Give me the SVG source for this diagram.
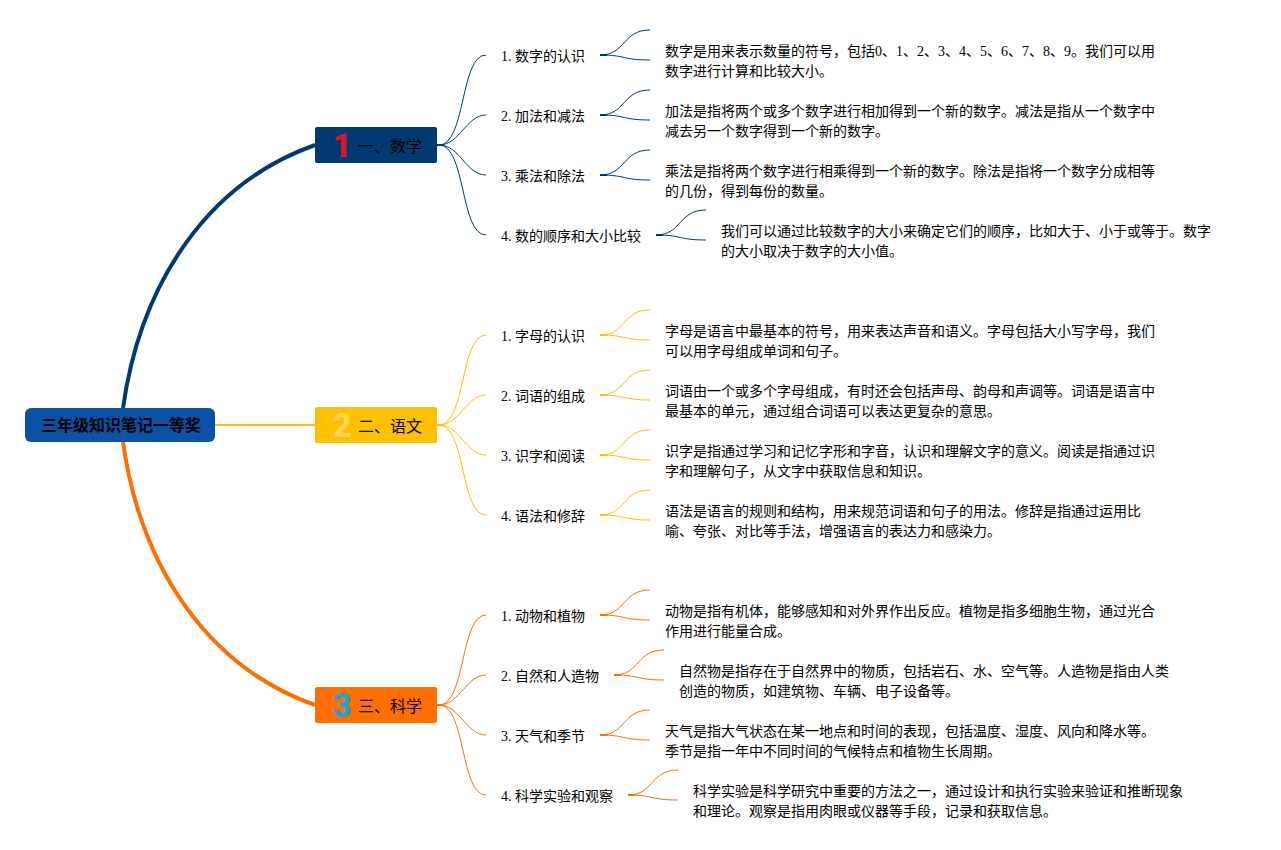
<svg xmlns="http://www.w3.org/2000/svg" width="1281" height="850" viewBox="0 0 1281 850">
<style>
text{font-family:"Liberation Serif","Noto Sans CJK SC",serif;fill:#000}
.s{font-size:14px}
.t{font-size:14px}
.b{font-size:16px}
.r{font-size:16px;font-weight:700;font-family:"Noto Sans CJK SC","Liberation Sans",sans-serif}
.n{font-size:33px;font-weight:900;font-family:Roboto,"Liberation Sans",sans-serif;text-anchor:middle}
.c{fill:none}
.blue{stroke:#003a70}.yel{stroke:#ffc000}.ora{stroke:#ff6f00}
.main{stroke-width:4}
.sub{stroke-width:1}
</style>
<rect width="1281" height="850" fill="#fff"/>
<g id="connectors" class="c">
<path class="c blue main" d="M123,408 C141,280 210,182 315,145"/>
<path class="c ora main" d="M123,442 C141,570 210,668 315,705"/>
<path class="c yel" stroke-width="2" d="M215,425H315"/>
<g class="blue sub">
<path class="c" stroke-width="2" d="M437,145h4M600,55h7M600,115h7M600,175h7M656,235h7"/>
<path class="c" d="M439,145C466,145 460,55 486,55"/>
<path class="c" d="M439,145C460,145 466,115 486,115"/>
<path class="c" d="M439,145C460,145 466,175 486,175"/>
<path class="c" d="M439,145C466,145 460,235 486,235"/>
<path class="c" d="M600,55C626,55 622,30 650,30"/><path class="c" d="M600,55C626,55 622,60 650,60"/>
<path class="c" d="M600,115C626,115 622,90 650,90"/><path class="c" d="M600,115C626,115 622,120 650,120"/>
<path class="c" d="M600,175C626,175 622,150 650,150"/><path class="c" d="M600,175C626,175 622,180 650,180"/>
<path class="c" d="M656,235C682,235 678,210 706,210"/><path class="c" d="M656,235C682,235 678,240 706,240"/>
</g>
<g class="yel sub">
<path class="c" stroke-width="2" d="M437,425h4M600,335h7M600,395h7M600,455h7M600,515h7"/>
<path class="c" d="M439,425C466,425 460,335 486,335"/>
<path class="c" d="M439,425C460,425 466,395 486,395"/>
<path class="c" d="M439,425C460,425 466,455 486,455"/>
<path class="c" d="M439,425C466,425 460,515 486,515"/>
<path class="c" d="M600,335C626,335 622,310 650,310"/><path class="c" d="M600,335C626,335 622,340 650,340"/>
<path class="c" d="M600,395C626,395 622,370 650,370"/><path class="c" d="M600,395C626,395 622,400 650,400"/>
<path class="c" d="M600,455C626,455 622,430 650,430"/><path class="c" d="M600,455C626,455 622,460 650,460"/>
<path class="c" d="M600,515C626,515 622,490 650,490"/><path class="c" d="M600,515C626,515 622,520 650,520"/>
</g>
<g class="ora sub">
<path class="c" stroke-width="2" d="M437,705h4M600,615h7M614,675h7M600,735h7M628,795h7"/>
<path class="c" d="M439,705C466,705 460,615 486,615"/>
<path class="c" d="M439,705C460,705 466,675 486,675"/>
<path class="c" d="M439,705C460,705 466,735 486,735"/>
<path class="c" d="M439,705C466,705 460,795 486,795"/>
<path class="c" d="M600,615C626,615 622,590 650,590"/><path class="c" d="M600,615C626,615 622,620 650,620"/>
<path class="c" d="M614,675C640,675 636,650 664,650"/><path class="c" d="M614,675C640,675 636,680 664,680"/>
<path class="c" d="M600,735C626,735 622,710 650,710"/><path class="c" d="M600,735C626,735 622,740 650,740"/>
<path class="c" d="M628,795C654,795 650,770 678,770"/><path class="c" d="M628,795C654,795 650,800 678,800"/>
</g>
</g>
<g id="root"><rect x="25" y="408" width="190" height="34" rx="6" fill="#0a52a5"/><text class="r" x="41" y="431">三年级知识笔记一等奖</text></g>
<g id="b1"><rect x="315" y="127" width="122" height="36" rx="2" fill="#003a70"/><text class="n" x="342" y="157" style="fill:#d9142b">1</text><text class="b" x="358" y="152">一、数学</text></g>
<g id="b2"><rect x="315" y="407" width="122" height="36" rx="2" fill="#ffc000"/><text class="n" x="342" y="437" style="fill:#ffd84d">2</text><text class="b" x="358" y="432">二、语文</text></g>
<g id="b3"><rect x="315" y="687" width="122" height="36" rx="2" fill="#ff6f00"/><text class="n" x="342" y="717" style="fill:#2a9fd0">3</text><text class="b" x="358" y="712">三、科学</text></g>
<g id="m1"><text class="s" x="501" y="61">1. 数字的认识</text><text class="t" x="665" y="56">数字是用来表示数量的符号，包括0、1、2、3、4、5、6、7、8、9。我们可以用</text><text class="t" x="665" y="76">数字进行计算和比较大小。</text></g>
<g id="m2"><text class="s" x="501" y="121">2. 加法和减法</text><text class="t" x="665" y="116">加法是指将两个或多个数字进行相加得到一个新的数字。减法是指从一个数字中</text><text class="t" x="665" y="136">减去另一个数字得到一个新的数字。</text></g>
<g id="m3"><text class="s" x="501" y="181">3. 乘法和除法</text><text class="t" x="665" y="176">乘法是指将两个数字进行相乘得到一个新的数字。除法是指将一个数字分成相等</text><text class="t" x="665" y="196">的几份，得到每份的数量。</text></g>
<g id="m4"><text class="s" x="501" y="241">4. 数的顺序和大小比较</text><text class="t" x="721" y="236">我们可以通过比较数字的大小来确定它们的顺序，比如大于、小于或等于。数字</text><text class="t" x="721" y="256">的大小取决于数字的大小值。</text></g>
<g id="y1"><text class="s" x="501" y="341">1. 字母的认识</text><text class="t" x="665" y="336">字母是语言中最基本的符号，用来表达声音和语义。字母包括大小写字母，我们</text><text class="t" x="665" y="356">可以用字母组成单词和句子。</text></g>
<g id="y2"><text class="s" x="501" y="401">2. 词语的组成</text><text class="t" x="665" y="396">词语由一个或多个字母组成，有时还会包括声母、韵母和声调等。词语是语言中</text><text class="t" x="665" y="416">最基本的单元，通过组合词语可以表达更复杂的意思。</text></g>
<g id="y3"><text class="s" x="501" y="461">3. 识字和阅读</text><text class="t" x="665" y="456">识字是指通过学习和记忆字形和字音，认识和理解文字的意义。阅读是指通过识</text><text class="t" x="665" y="476">字和理解句子，从文字中获取信息和知识。</text></g>
<g id="y4"><text class="s" x="501" y="521">4. 语法和修辞</text><text class="t" x="665" y="516">语法是语言的规则和结构，用来规范词语和句子的用法。修辞是指通过运用比</text><text class="t" x="665" y="536">喻、夸张、对比等手法，增强语言的表达力和感染力。</text></g>
<g id="k1"><text class="s" x="501" y="621">1. 动物和植物</text><text class="t" x="665" y="616">动物是指有机体，能够感知和对外界作出反应。植物是指多细胞生物，通过光合</text><text class="t" x="665" y="636">作用进行能量合成。</text></g>
<g id="k2"><text class="s" x="501" y="681">2. 自然和人造物</text><text class="t" x="679" y="676">自然物是指存在于自然界中的物质，包括岩石、水、空气等。人造物是指由人类</text><text class="t" x="679" y="696">创造的物质，如建筑物、车辆、电子设备等。</text></g>
<g id="k3"><text class="s" x="501" y="741">3. 天气和季节</text><text class="t" x="665" y="736">天气是指大气状态在某一地点和时间的表现，包括温度、湿度、风向和降水等。</text><text class="t" x="665" y="756">季节是指一年中不同时间的气候特点和植物生长周期。</text></g>
<g id="k4"><text class="s" x="501" y="801">4. 科学实验和观察</text><text class="t" x="693" y="796">科学实验是科学研究中重要的方法之一，通过设计和执行实验来验证和推断现象</text><text class="t" x="693" y="816">和理论。观察是指用肉眼或仪器等手段，记录和获取信息。</text></g>
</svg>
